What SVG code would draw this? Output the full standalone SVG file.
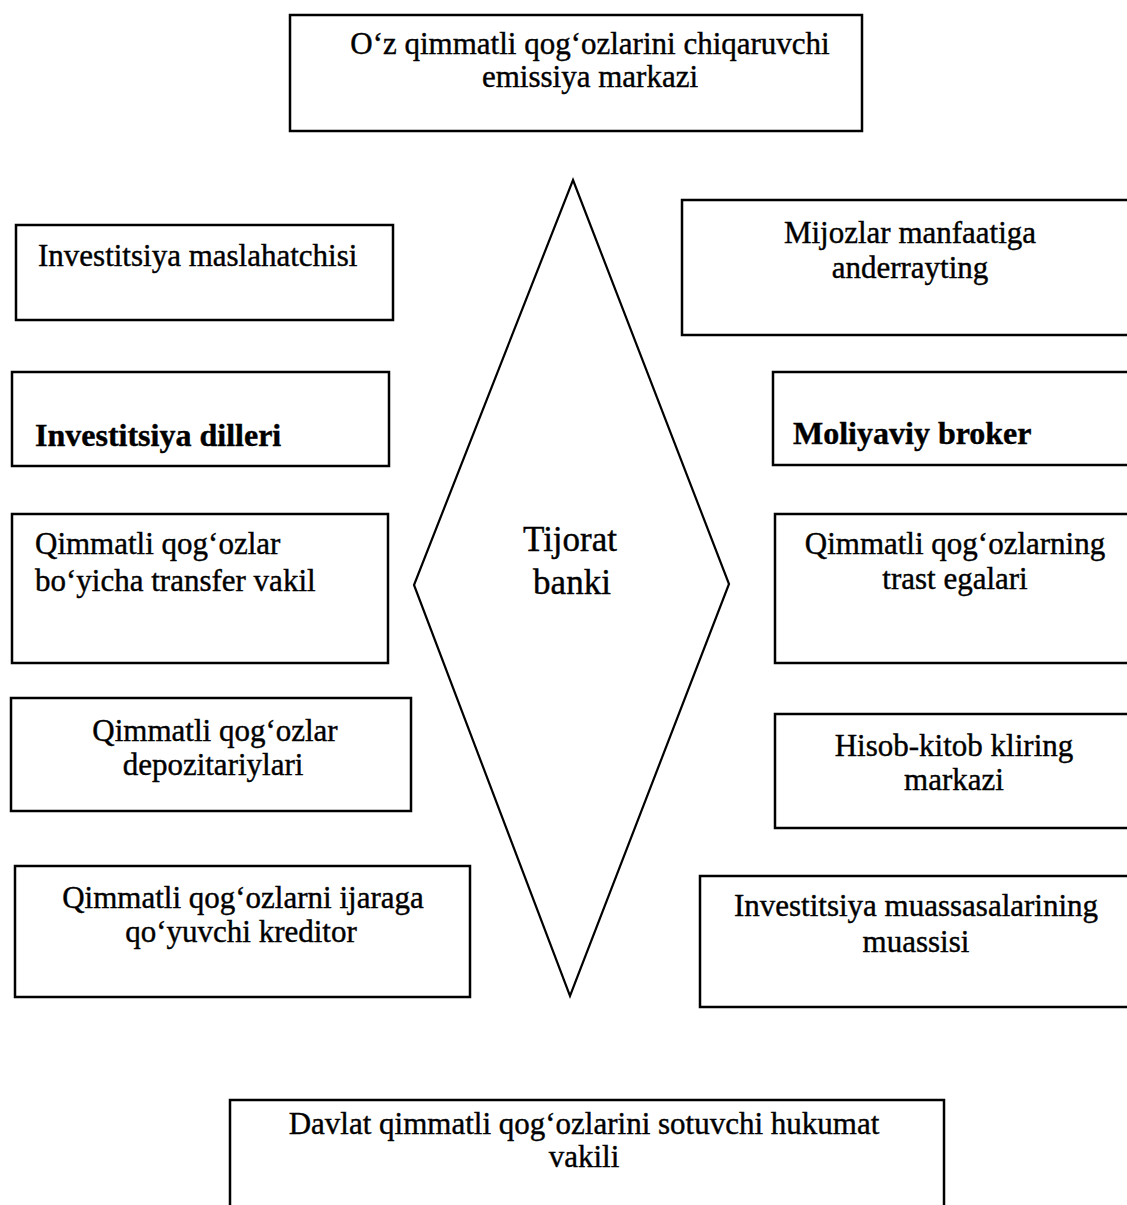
<svg xmlns="http://www.w3.org/2000/svg" width="1127" height="1205" viewBox="0 0 1127 1205">
<style>
rect.box{fill:#fff;stroke:#000;stroke-width:2.5}
.diam{fill:none;stroke:#000;stroke-width:2.2}
text{font-family:"Liberation Serif","Times New Roman",serif;font-size:31px;fill:#000;stroke:#000;stroke-width:0.4}
.c{text-anchor:middle}
.b{font-weight:bold;font-size:32px}
.big{font-size:35px}
</style>
<rect width="1127" height="1205" fill="#fff"/>
<g id="connectors">
<polygon class="diam" points="573,180 729,584 570,996 414,585"/>
</g>
<g id="center">
<text class="c big" x="570" y="551">Tijorat</text>
<text class="c big" x="572" y="594">banki</text>
</g>
<g id="top">
<rect class="box" x="290" y="15" width="572" height="116"/>
<text class="c" x="590" y="54">O‘z qimmatli qog‘ozlarini chiqaruvchi</text>
<text class="c" x="590" y="87">emissiya markazi</text>
</g>
<g id="l1">
<rect class="box" x="16" y="225" width="377" height="95"/>
<text x="38" y="266">Investitsiya maslahatchisi</text>
</g>
<g id="l2">
<rect class="box" x="12" y="372" width="377" height="94"/>
<text class="b" x="35" y="446">Investitsiya dilleri</text>
</g>
<g id="l3">
<rect class="box" x="12" y="514" width="376" height="149"/>
<text x="35" y="554">Qimmatli qog‘ozlar</text>
<text x="35" y="591">bo‘yicha transfer vakil</text>
</g>
<g id="l4">
<rect class="box" x="11" y="698" width="400" height="113"/>
<text class="c" x="215" y="741">Qimmatli qog‘ozlar</text>
<text class="c" x="213" y="775">depozitariylari</text>
</g>
<g id="l5">
<rect class="box" x="15" y="866" width="455" height="131"/>
<text class="c" x="243" y="908">Qimmatli qog‘ozlarni ijaraga</text>
<text class="c" x="241" y="942">qo‘yuvchi kreditor</text>
</g>
<g id="r1">
<rect class="box" x="682" y="200" width="452" height="135"/>
<text class="c" x="910" y="243">Mijozlar manfaatiga</text>
<text class="c" x="910" y="278">anderrayting</text>
</g>
<g id="r2">
<rect class="box" x="773" y="372" width="362" height="93"/>
<text class="b" x="793" y="444">Moliyaviy broker</text>
</g>
<g id="r3">
<rect class="box" x="775" y="514" width="360" height="149"/>
<text class="c" x="955" y="554">Qimmatli qog‘ozlarning</text>
<text class="c" x="955" y="589">trast egalari</text>
</g>
<g id="r4">
<rect class="box" x="775" y="714" width="360" height="114"/>
<text class="c" x="954" y="756">Hisob-kitob kliring</text>
<text class="c" x="954" y="790">markazi</text>
</g>
<g id="r5">
<rect class="box" x="700" y="876" width="434" height="131"/>
<text class="c" x="916" y="916">Investitsiya muassasalarining</text>
<text class="c" x="916" y="952">muassisi</text>
</g>
<g id="bottom">
<rect class="box" x="230" y="1100" width="714" height="130"/>
<text class="c" x="584" y="1134">Davlat qimmatli qog‘ozlarini sotuvchi hukumat</text>
<text class="c" x="584" y="1167">vakili</text>
</g>
</svg>
